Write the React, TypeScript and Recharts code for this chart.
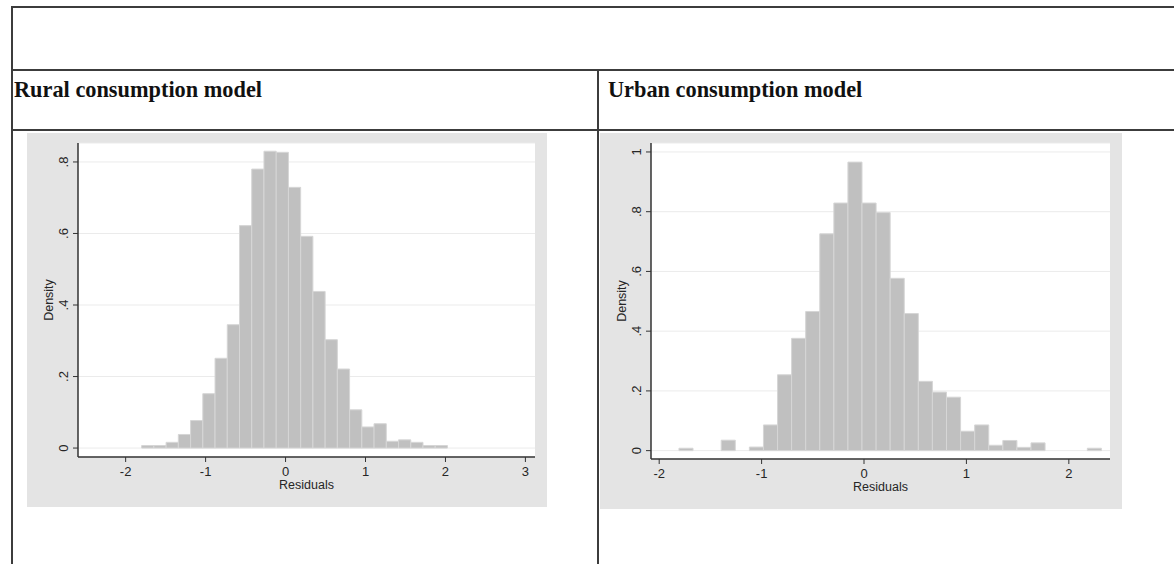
import { CartesianGrid, ComposedChart, ReferenceArea, XAxis, YAxis } from "recharts";

// rural residual histogram: 25 bins starting at -1.8
const ruralStart = -1.8;
const ruralBinWidth = 0.153;
const ruralDensity = [
  0.007, 0.007, 0.016, 0.038, 0.077, 0.152, 0.251, 0.345, 0.622, 0.78, 0.83,
  0.827, 0.729, 0.592, 0.438, 0.303, 0.221, 0.107, 0.059, 0.068, 0.019, 0.023,
  0.016, 0.007, 0.007,
];
const ruralXTicks = [-2, -1, 0, 1, 2, 3];
const ruralYTicks = [0, 0.2, 0.4, 0.6, 0.8];

// urban residual histogram: 30 bins starting at -1.807
const urbanStart = -1.807;
const urbanBinWidth = 0.1375;
const urbanDensity = [
  0.008, 0, 0, 0.035, 0, 0.012, 0.086, 0.254, 0.376, 0.466, 0.726, 0.829,
  0.966, 0.829, 0.797, 0.577, 0.459, 0.232, 0.196, 0.179, 0.065, 0.086, 0.018,
  0.034, 0.011, 0.026, 0, 0, 0, 0.008,
];
const urbanXTicks = [-2, -1, 0, 1, 2];
const urbanYTicks = [0, 0.2, 0.4, 0.6, 0.8, 1];

const FONT = "'Liberation Sans', Arial, sans-serif";
const TICK_SIZE = 13;
const LABEL_SIZE = 12.5;
const INK = "#262626";

// Stata style: ".2" instead of "0.2"
function fmt(v: number) {
  return v === 0 ? "0" : String(v).replace(/^0\./, ".").replace(/^-0\./, "-.");
}

function YTick(props: any) {
  const { x, y, payload } = props;
  return (
    <text
      x={x}
      y={y}
      transform={`rotate(-90, ${x}, ${y})`}
      textAnchor="middle"
      fontSize={TICK_SIZE}
      fontFamily={FONT}
      fill={INK}
    >
      {fmt(payload.value)}
    </text>
  );
}

function Histogram({
  density,
  start,
  binWidth,
  xDomain,
  yDomain,
  xTicks,
  yTicks,
  width,
  height,
}: {
  density: number[];
  start: number;
  binWidth: number;
  xDomain: [number, number];
  yDomain: [number, number];
  xTicks: number[];
  yTicks: number[];
  width: number;
  height: number;
}) {
  const bins = density.map((d, i) => ({
    x0: start + i * binWidth,
    x1: start + (i + 1) * binWidth,
    density: d,
  }));

  return (
    <ComposedChart
      width={width}
      height={height}
      data={bins}
      margin={{ top: 10, right: 12, bottom: 0, left: 0 }}
      style={{ fontFamily: FONT }}
    >
      <CartesianGrid vertical={false} fill="#ffffff" stroke="#ebebeb" />
      <XAxis
        type="number"
        dataKey="x0"
        domain={xDomain}
        allowDataOverflow
        ticks={xTicks}
        interval={0}
        height={50}
        tickSize={5}
        tickMargin={5}
        axisLine={{ stroke: "#333", strokeWidth: 1.5 }}
        tickLine={{ stroke: "#333" }}
        tick={{ fill: INK, fontSize: TICK_SIZE, fontFamily: FONT }}
        label={{
          value: "Residuals",
          position: "insideBottom",
          offset: 18,
          fill: INK,
          fontSize: LABEL_SIZE,
          fontFamily: FONT,
        }}
      />
      <YAxis
        type="number"
        domain={yDomain}
        allowDataOverflow
        ticks={yTicks}
        interval={0}
        width={51}
        tickSize={5}
        tickMargin={5}
        axisLine={{ stroke: "#333", strokeWidth: 1.5 }}
        tickLine={{ stroke: "#333" }}
        tick={<YTick />}
        label={{
          value: "Density",
          angle: -90,
          position: "center",
          dx: -4,
          fill: INK,
          fontSize: LABEL_SIZE,
          fontFamily: FONT,
        }}
      />
      {bins
        .filter((b) => b.density > 0)
        .map((b) => (
          <ReferenceArea
            key={b.x0}
            x1={b.x0}
            x2={b.x1}
            y1={0}
            y2={b.density}
            fill="#c0c0c0"
            fillOpacity={1}
            stroke="#d6d6d6"
            strokeWidth={1}
          />
        ))}
    </ComposedChart>
  );
}

const line = "#3c3c3c";

const headerStyle: React.CSSProperties = {
  position: "absolute",
  top: 76,
  fontFamily: "'Liberation Serif', 'Times New Roman', serif",
  fontWeight: 700,
  fontSize: 24,
  lineHeight: "26px",
  color: "#111",
  whiteSpace: "nowrap",
  transform: "scaleX(0.93)",
  transformOrigin: "left center",
};

export default function App() {
  return (
    <div
      style={{
        position: "absolute",
        left: 0,
        top: 0,
        width: 1174,
        height: 564,
        background: "#fff",
        overflow: "hidden",
      }}
    >
      {/* table rules */}
      <div style={{ position: "absolute", left: 12, right: 0, top: 6, height: 2, background: line }} />
      <div style={{ position: "absolute", left: 12, right: 0, top: 69, height: 2, background: line }} />
      <div style={{ position: "absolute", left: 12, right: 0, top: 129, height: 2, background: line }} />
      <div style={{ position: "absolute", left: 11, top: 6, bottom: 0, width: 2, background: line }} />
      <div style={{ position: "absolute", left: 597, top: 70, bottom: 0, width: 2, background: line }} />

      <div style={{ ...headerStyle, left: 14 }}>Rural consumption model</div>
      <div style={{ ...headerStyle, left: 608 }}>Urban consumption model</div>

      <div style={{ position: "absolute", left: 27, top: 133, background: "#e4e4e4" }}>
        <Histogram
          density={ruralDensity}
          start={ruralStart}
          binWidth={ruralBinWidth}
          xDomain={[-2.596, 3.12]}
          yDomain={[-0.025, 0.853]}
          xTicks={ruralXTicks}
          yTicks={ruralYTicks}
          width={520}
          height={374}
        />
      </div>

      <div style={{ position: "absolute", left: 600, top: 133, background: "#e4e4e4" }}>
        <Histogram
          density={urbanDensity}
          start={urbanStart}
          binWidth={urbanBinWidth}
          xDomain={[-2.08, 2.402]}
          yDomain={[-0.028, 1.03]}
          xTicks={urbanXTicks}
          yTicks={urbanYTicks}
          width={522}
          height={376}
        />
      </div>
    </div>
  );
}
